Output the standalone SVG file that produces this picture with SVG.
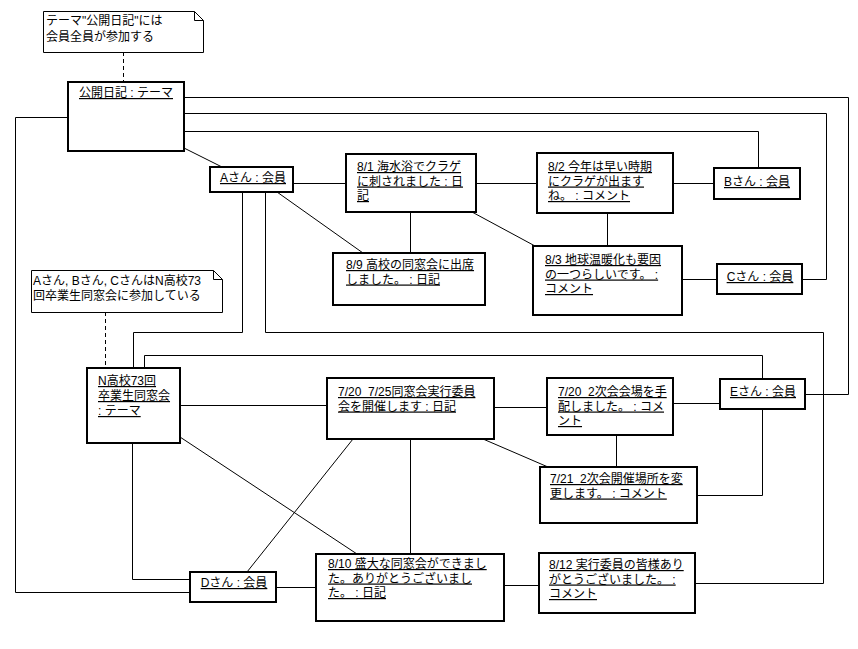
<svg xmlns="http://www.w3.org/2000/svg" width="858" height="649" viewBox="0 0 858 649">
<style>
text{font-family:"Liberation Sans","Noto Sans CJK JP",sans-serif;font-size:12px;fill:#000}
.u{text-decoration:underline}
.m{text-anchor:middle}
.box{fill:#fff;stroke:#000;stroke-width:2}
.note{fill:#fff;stroke:#000;stroke-width:1}
#connectors line,#connectors polyline{fill:none;stroke:#000;stroke-width:1}
.dash{stroke-dasharray:4 3}
</style>
<rect width="858" height="649" fill="#fff"/>
<g id="connectors">
<line class="dash" x1="123.5" y1="52" x2="123.5" y2="82"/>
<line class="dash" x1="105.5" y1="312" x2="105.5" y2="368"/>
<polyline points="184,97.5 848.5,97.5 848.5,394.5 805,394.5"/>
<polyline points="184,113.5 826.5,113.5 826.5,279.5 802,279.5"/>
<polyline points="184,131.5 758.5,131.5 758.5,168"/>
<polyline points="68,117.5 15.5,117.5 15.5,592.5 190,592.5"/>
<line x1="184" y1="148" x2="222" y2="167"/>
<line x1="293" y1="183.5" x2="346" y2="183.5"/>
<line x1="476" y1="183.5" x2="537" y2="183.5"/>
<line x1="673" y1="183.5" x2="714" y2="183.5"/>
<line x1="607.5" y1="213" x2="607.5" y2="246"/>
<line x1="472" y1="212" x2="535" y2="246"/>
<line x1="682" y1="279.5" x2="717" y2="279.5"/>
<line x1="410.5" y1="212" x2="410.5" y2="253"/>
<line x1="277" y1="192" x2="363" y2="253"/>
<polyline points="242.5,192 242.5,332.5 133.5,332.5 133.5,368"/>
<polyline points="265.5,192 265.5,332.5 823.5,332.5 823.5,583.5 695,583.5"/>
<polyline points="144.5,368 144.5,355.5 762.5,355.5 762.5,379"/>
<line x1="180" y1="405.5" x2="327" y2="405.5"/>
<line x1="494" y1="407.5" x2="547" y2="407.5"/>
<line x1="673" y1="403.5" x2="720" y2="403.5"/>
<line x1="616.5" y1="435" x2="616.5" y2="467"/>
<line x1="483" y1="439" x2="548" y2="467"/>
<polyline points="697,495.5 762.5,495.5 762.5,409"/>
<polyline points="132.5,443 132.5,579.5 190,579.5"/>
<line x1="180" y1="437" x2="357" y2="554"/>
<line x1="353" y1="439" x2="247" y2="572"/>
<line x1="410.5" y1="439" x2="410.5" y2="554"/>
<line x1="276" y1="587.5" x2="316" y2="587.5"/>
<line x1="504" y1="585.5" x2="539" y2="585.5"/>
</g>
<g id="note1">
<path class="note" d="M43.5,11.5 H194.5 L203.5,20.5 V52.5 H43.5 Z M194.5,11.5 V20.5 H203.5"/>
<text x="46" y="25">テーマ"公開日記"には</text>
<text x="46" y="41">会員全員が参加する</text>
</g>
<g id="note2">
<path class="note" d="M31.5,270.5 H213.5 L222.5,279.5 V312.5 H31.5 Z M213.5,270.5 V279.5 H222.5"/>
<text x="33" y="285">Aさん, Bさん, CさんはN高校73</text>
<text x="33" y="300">回卒業生同窓会に参加している</text>
</g>
<g id="koukai">
<rect class="box" x="68" y="82" width="116" height="69"/>
<text class="u m" x="126" y="97">公開日記 : テーマ</text>
</g>
<g id="memberA">
<rect class="box" x="210" y="167" width="83" height="25"/>
<text class="u m" x="253" y="182">Aさん : 会員</text>
</g>
<g id="diary81">
<rect class="box" x="346" y="154" width="130" height="58"/>
<text class="u" x="357" y="171"><tspan x="357">8/1 海水浴でクラゲ</tspan><tspan x="357" dy="14.5">に刺されました : 日</tspan><tspan x="357" dy="14.5">記</tspan></text>
</g>
<g id="comment82">
<rect class="box" x="537" y="153" width="136" height="60"/>
<text class="u" x="548" y="171"><tspan x="548">8/2 今年は早い時期</tspan><tspan x="548" dy="14.5">にクラゲが出ます</tspan><tspan x="548" dy="14.5">ね。 : コメント</tspan></text>
</g>
<g id="memberB">
<rect class="box" x="714" y="168" width="86" height="31"/>
<text class="u m" x="757" y="186">Bさん : 会員</text>
</g>
<g id="comment83">
<rect class="box" x="533" y="246" width="149" height="69"/>
<text class="u" x="545" y="264"><tspan x="545">8/3 地球温暖化も要因</tspan><tspan x="545" dy="14.5">の一つらしいです。 :</tspan><tspan x="545" dy="14.5">コメント</tspan></text>
</g>
<g id="memberC">
<rect class="box" x="717" y="264" width="85" height="30"/>
<text class="u m" x="760" y="281">Cさん : 会員</text>
</g>
<g id="diary89">
<rect class="box" x="333" y="253" width="152" height="52"/>
<text class="u" x="346" y="269"><tspan x="346">8/9 高校の同窓会に出席</tspan><tspan x="346" dy="14.5">しました。 : 日記</tspan></text>
</g>
<g id="themeN">
<rect class="box" x="87" y="368" width="93" height="75"/>
<text class="u" x="98" y="385"><tspan x="98">N高校73回</tspan><tspan x="98" dy="15">卒業生同窓会</tspan><tspan x="98" dy="15">: テーマ</tspan></text>
</g>
<g id="diary720">
<rect class="box" x="327" y="378" width="167" height="61"/>
<text class="u" x="338" y="396"><tspan x="338">7/20&#160; 7/25同窓会実行委員</tspan><tspan x="338" dy="14.5">会を開催します : 日記</tspan></text>
</g>
<g id="comment720">
<rect class="box" x="547" y="378" width="126" height="57"/>
<text class="u" x="558" y="396"><tspan x="558">7/20&#160; 2次会会場を手</tspan><tspan x="558" dy="14.5">配しました。 : コメ</tspan><tspan x="558" dy="14.5">ント</tspan></text>
</g>
<g id="memberE">
<rect class="box" x="720" y="379" width="85" height="30"/>
<text class="u m" x="763" y="396">Eさん : 会員</text>
</g>
<g id="comment721">
<rect class="box" x="540" y="467" width="157" height="56"/>
<text class="u" x="550" y="483"><tspan x="550">7/21&#160; 2次会開催場所を変</tspan><tspan x="550" dy="14.5">更します。 : コメント</tspan></text>
</g>
<g id="memberD">
<rect class="box" x="190" y="572" width="86" height="30"/>
<text class="u m" x="234" y="587">Dさん : 会員</text>
</g>
<g id="diary810">
<rect class="box" x="316" y="554" width="188" height="67"/>
<text class="u" x="328" y="568"><tspan x="328">8/10 盛大な同窓会ができまし</tspan><tspan x="328" dy="14.5">た。ありがとうございまし</tspan><tspan x="328" dy="14.5">た。 : 日記</tspan></text>
</g>
<g id="comment812">
<rect class="box" x="539" y="553" width="156" height="60"/>
<text class="u" x="549" y="569"><tspan x="549">8/12 実行委員の皆様あり</tspan><tspan x="549" dy="14.5">がとうございました。 :</tspan><tspan x="549" dy="14.5">コメント</tspan></text>
</g>
</svg>
